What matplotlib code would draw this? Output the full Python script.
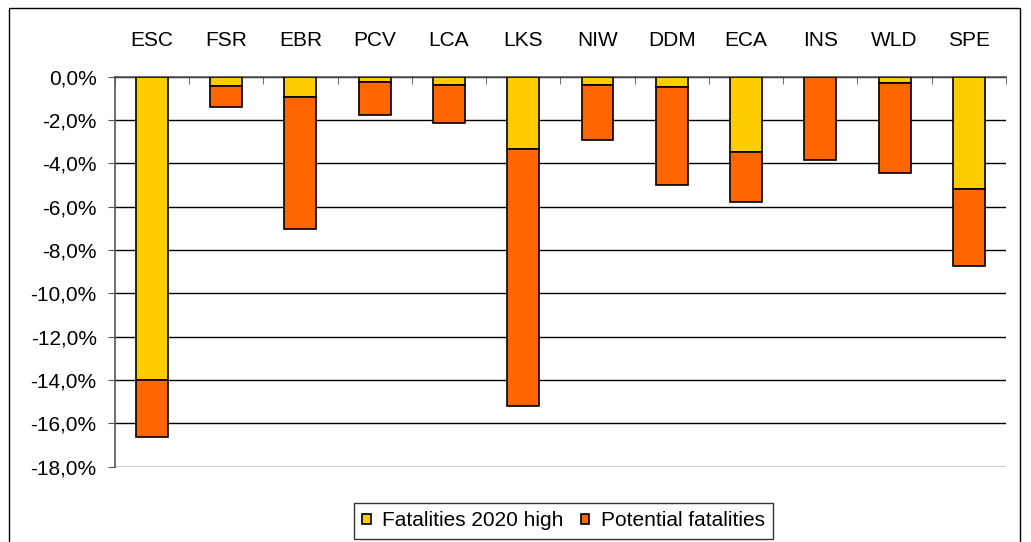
import matplotlib
matplotlib.use("Agg")
import matplotlib.pyplot as plt
import numpy as np
from matplotlib.patches import Rectangle
from matplotlib.ticker import FuncFormatter, FixedLocator

categories = ['ESC', 'FSR', 'EBR', 'PCV', 'LCA', 'LKS', 'NIW', 'DDM', 'ECA', 'INS', 'WLD', 'SPE']
fatalities_2020_high = [-14.0, -0.44, -0.92, -0.23, -0.37, -3.32, -0.37, -0.46, -3.46, 0.0, -0.31, -5.18]
potential_fatalities = [-2.61, -0.94, -6.11, -1.54, -1.78, -11.88, -2.55, -4.55, -2.34, -3.84, -4.15, -3.54]
yticks = [0, -2, -4, -6, -8, -10, -12, -14, -16, -18]

plt.rcParams['font.family'] = ['Liberation Sans', 'DejaVu Sans']

W, H = 1031, 542
fig = plt.figure(figsize=(W / 100, H / 100), dpi=100)
ax = fig.add_axes([114.7 / W, 1 - 466.7 / H, (1006 - 114.7) / W, (466.7 - 76.7) / H])

# outer chart frame
fig.patches.append(Rectangle((9 / W, -0.05), (1020 - 9) / W, 1 - 8 / H + 0.05,
                             transform=fig.transFigure, fill=False, edgecolor='black', lw=1.0, zorder=0))

x = np.arange(len(categories))
yellow = '#FFCC00'
orange = '#FF6600'
bw = 0.43
b1 = ax.bar(x, fatalities_2020_high, width=bw, color=yellow, edgecolor='black', lw=1.2,
            label='Fatalities 2020 high', zorder=3)
b2 = ax.bar(x, potential_fatalities, width=bw, bottom=fatalities_2020_high, color=orange,
            edgecolor='black', lw=1.2, label='Potential fatalities', zorder=3)

ax.set_xlim(-0.5, len(categories) - 0.5)
ax.set_ylim(-18, 0)
ax.yaxis.set_major_locator(FixedLocator(yticks))
ax.yaxis.set_major_formatter(FuncFormatter(lambda v, p: f"{v:.1f}%".replace('.', ',')))
ax.grid(axis='y', color='black', lw=1.0, zorder=1)
ax.set_axisbelow(True)

ax.xaxis.tick_top()
ax.set_xticks(x)
ax.set_xticklabels(categories)
ax.set_xticks(np.arange(len(categories) + 1) - 0.5, minor=True)
ax.tick_params(axis='x', which='major', length=0, pad=19, labelsize=15)
ax.tick_params(axis='x', which='minor', direction='in', length=5, color='#555555', top=True, bottom=False)
ax.tick_params(axis='y', which='major', length=5, color='#555555', labelsize=15, pad=8)

for s in ['right', 'bottom']:
    ax.spines[s].set_visible(False)
ax.spines['left'].set_color('#555555')
ax.spines['left'].set_linewidth(1.2)
ax.spines['top'].set_color('#555555')
ax.spines['top'].set_linewidth(1.2)

leg = fig.legend(handles=[b1, b2], loc='upper center', bbox_to_anchor=(563.5 / W, 1 - 503 / H),
                 ncol=2, frameon=True, fancybox=False, edgecolor='black', fontsize=15,
                 handlelength=0.4, handleheight=0.4, handletextpad=0.55, columnspacing=0.85,
                 borderpad=0.4, borderaxespad=0)
leg.get_frame().set_linewidth(1.0)

fig.savefig('out.png', dpi=100)
